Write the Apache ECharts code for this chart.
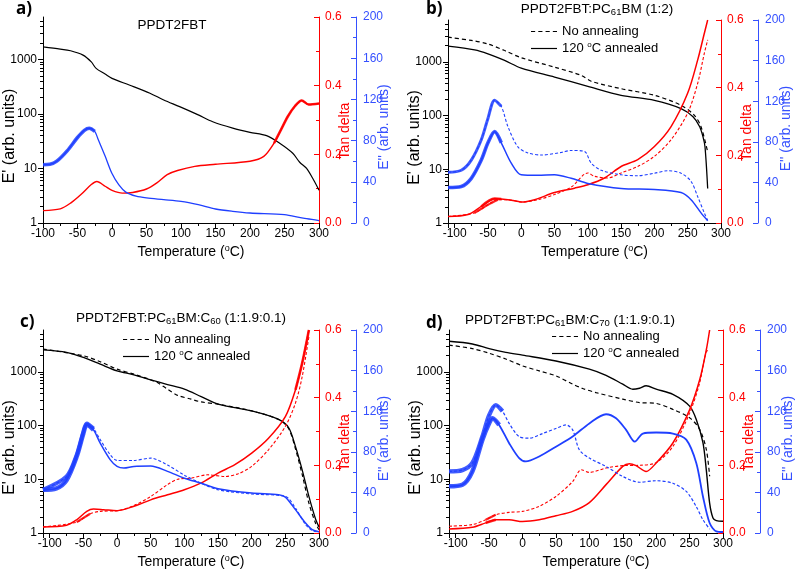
<!DOCTYPE html>
<html><head><meta charset="utf-8">
<script src="https://cdn.jsdelivr.net/npm/echarts@6/dist/echarts.min.js"></script>
<style>html,body{margin:0;padding:0;background:#fff}#c{width:800px;height:572px}</style>
</head><body><div id="c"></div>
<script>
// ---------------- DATA (temperature °C, value) ----------------
// Panel a) PPDT2FBT
const a_Ep = [[-100,1700],[-75,1550],[-60,1440],[-42,1200],[-30,900],[-23,684],[-10,540],[0,450],[25,340],[55,240],[75,180],[98,136],[125,96],[146,72],[175,55],[200,46],[224,40],[243,29],[262,19],[272,13],[282,10],[292,6.2],[300,4]];
const a_tan = [[-100,0.036],[-75,0.041],[-60,0.058],[-45,0.083],[-30,0.112],[-22,0.121],[-10,0.107],[0,0.095],[15,0.087],[30,0.089],[50,0.099],[65,0.117],[80,0.141],[95,0.153],[120,0.165],[150,0.171],[200,0.180],[220,0.194],[235,0.233],[245,0.272],[255,0.311],[265,0.340],[275,0.357],[285,0.345],[300,0.348]];
const a_Epp = [[-100,56.6],[-90,57],[-80,60],[-65,70],[-50,83],[-40,90],[-33,92],[-25,89],[-20,81],[-10,65],[0,48],[10,37],[20,30],[35,26],[50,24.3],[75,22.7],[100,21],[125,17.8],[150,13.6],[175,11.3],[200,9.7],[250,8.1],[275,4.9],[300,2.3]];

// Panel b) PPDT2FBT:PC61BM (1:2)
const b_Ep_dash = [[-110,2870],[-75,2500],[-50,2150],[-25,1620],[0,1190],[50,795],[90,560],[105,435],[150,316],[200,238],[240,155],[260,101],[270,62],[280,21]];
const b_Ep_sol = [[-110,1960],[-70,1670],[-50,1410],[-25,1060],[0,765],[50,520],[100,350],[150,238],[200,192],[240,135],[258,95],[268,62],[273,40],[276,26],[280,4.4]];
const b_tan_dash = [[-110,0.019],[-70,0.030],[-50,0.054],[-35,0.069],[-20,0.069],[0,0.062],[25,0.069],[50,0.084],[75,0.106],[100,0.148],[110,0.138],[130,0.133],[150,0.148],[175,0.167],[200,0.197],[225,0.246],[250,0.325],[265,0.413],[275,0.502],[280,0.541]];
const b_tan_sol = [[-110,0.019],[-80,0.025],[-60,0.049],[-40,0.072],[-30,0.071],[-10,0.066],[0,0.062],[20,0.069],[50,0.090],[80,0.103],[100,0.113],[125,0.133],[150,0.167],[175,0.187],[200,0.226],[225,0.285],[250,0.384],[265,0.482],[275,0.561],[280,0.60]];
const b_Epp_dash = [[-110,50],[-90,52],[-75,62],[-60,82],[-50,103],[-40,121],[-30,115],[-20,95],[-5,75],[10,69],[30,67],[60,69.5],[75,71.5],[95,70.5],[105,59],[120,52],[150,47.5],[175,46.6],[200,49],[220,51.5],[240,49],[255,41],[265,26],[275,9.8],[280,2.6]];
const b_Epp_sol = [[-110,35],[-90,36],[-75,44],[-60,62],[-50,79],[-40,90],[-30,79],[-15,59],[0,47.5],[25,47],[50,47.5],[75,44],[100,39],[150,34],[200,33],[240,30],[255,23],[270,10],[280,2.3]];

// Panel c) PPDT2FBT:PC61BM:C60 (1:1.9:0.1)
const c_Ep_dash = [[-110,2650],[-50,1990],[-25,1540],[0,1120],[25,905],[50,710],[60,630],[75,475],[90,365],[110,310],[125,275],[150,250],[200,187],[240,130],[255,87],[265,37],[275,12.3],[285,3.6],[295,1.5],[300,1.15]];
const c_Ep_sol = [[-110,2560],[-75,2300],[-50,1850],[-25,1385],[0,1040],[25,880],[50,710],[75,580],[100,475],[125,345],[150,250],[200,187],[240,130],[255,91],[265,41],[275,15],[285,4.8],[295,1.8],[300,1.3]];
const c_tan_dash = [[-110,0.018],[-60,0.032],[-40,0.057],[-25,0.064],[0,0.066],[25,0.081],[50,0.108],[75,0.143],[90,0.159],[110,0.162],[135,0.172],[160,0.167],[180,0.175],[200,0.197],[225,0.246],[250,0.315],[265,0.384],[275,0.462],[285,0.580]];
const c_tan_sol = [[-110,0.018],[-75,0.023],[-60,0.039],[-45,0.064],[-35,0.071],[-20,0.069],[0,0.066],[25,0.079],[50,0.098],[75,0.113],[100,0.128],[125,0.148],[150,0.177],[175,0.202],[200,0.236],[225,0.280],[250,0.344],[265,0.423],[275,0.502],[285,0.60]];
const c_Epp_dash = [[-110,42.6],[-75,55.7],[-60,77],[-50,100],[-45,108],[-35,103],[-25,92],[-10,77],[0,71.5],[25,71.5],[50,73.8],[75,67],[100,57],[125,49],[150,42.6],[200,38.4],[250,36],[265,24.6],[280,8.2],[290,2.6],[300,0.7]];
const c_Epp_sol = [[-110,42.6],[-90,44],[-75,52],[-60,75],[-50,98],[-45,106.5],[-35,101.6],[-25,88.5],[-10,72],[0,65.6],[10,64],[25,65.6],[50,66],[75,60.7],[100,54],[125,49],[150,43.6],[200,39.3],[240,37.7],[250,35.4],[265,23],[280,9.8],[290,3.3],[300,1.3]];

// Panel d) PPDT2FBT:PC61BM:C70 (1:1.9:0.1)
const d_Ep_dash = [[-110,3150],[-75,2700],[-50,2220],[-25,1730],[0,1290],[25,1040],[50,840],[75,590],[90,490],[110,410],[150,310],[175,268],[200,258],[225,200],[250,140],[265,85],[275,36],[280,11.4]];
const d_Ep_sol = [[-110,3700],[-75,3300],[-50,2700],[-25,2300],[0,2040],[50,1590],[100,1120],[125,860],[150,590],[165,475],[175,495],[185,550],[200,475],[225,380],[250,230],[260,130],[270,48],[275,15],[280,3.6],[285,1.9],[290,1.7],[300,1.65]];
const d_tan_dash = [[-110,0.020],[-75,0.025],[-55,0.039],[-40,0.054],[-20,0.061],[0,0.064],[25,0.079],[50,0.108],[75,0.152],[88,0.187],[100,0.179],[125,0.192],[150,0.199],[175,0.200],[200,0.208],[225,0.256],[250,0.354],[265,0.443],[275,0.536],[280,0.541]];
const d_tan_sol = [[-110,0.012],[-75,0.017],[-55,0.030],[-40,0.039],[-20,0.039],[0,0.034],[25,0.039],[50,0.051],[75,0.064],[100,0.090],[125,0.143],[150,0.197],[160,0.205],[170,0.199],[185,0.182],[200,0.207],[225,0.266],[250,0.364],[265,0.452],[275,0.541],[280,0.60]];
const d_Epp_dash = [[-110,60.7],[-90,62],[-75,69],[-60,95],[-50,116],[-40,126],[-30,120],[-20,108],[-5,95],[10,93.4],[30,98],[50,103],[65,106.5],[75,101.6],[85,82],[100,73.8],[125,65.6],[150,55.7],[175,50],[200,51.5],[225,49],[245,41],[260,26],[270,13],[280,3.9]];
const d_Epp_sol = [[-110,46],[-90,47.5],[-75,60.7],[-60,92],[-50,108],[-45,113],[-35,106.5],[-20,88.5],[-5,73.8],[5,70.5],[25,75.4],[50,85],[75,95],[100,108],[125,117],[140,113],[155,101.6],[168,90],[180,98],[200,99],[225,98],[245,92],[260,69],[270,36],[280,9.8],[290,1.6],[300,1]];

// Tick labels
const LOG_MAJOR = [1, 10, 100, 1000];
const LEGEND_NAMES = ['No annealing', '120 oC annealed'];

// ---------------- LAYOUT / STYLE ----------------
const FONT = 'Liberation Sans';
const RED = '#ff0000', BLUE = '#1f3fff', BLUE_T = '#3550ff', BLACK = '#000';
const LOG_MINOR = [];
[1, 10, 100, 1000].forEach(d => { for (let k = 2; k <= 9; k++) if (d * k < 6000) LOG_MINOR.push(d * k); });

const panels = [
  { grid: {left: 43, top: 17, width: 276, height: 206}, xmin: -100,
    tag: 'a)', tagPos: [16, 1],
    title: '{n|PPDT2FBT}', titlePos: [172, 17], legend: null },
  { grid: {left: 448, top: 20, width: 273, height: 203}, xmin: -110,
    tag: 'b)', tagPos: [426, 1],
    title: '{n|PPDT2FBT:PC}{s|61}{n|BM (1:2)}', titlePos: [597, 1], legend: [531, 25] },
  { grid: {left: 43, top: 330, width: 276, height: 203}, xmin: -110,
    tag: 'c)', tagPos: [20, 314],
    title: '{n|PPDT2FBT:PC}{s|61}{n|BM:C}{s|60}{n| (1:1.9:0.1)}', titlePos: [181, 310], legend: [123, 333] },
  { grid: {left: 449, top: 330, width: 274, height: 203}, xmin: -110,
    tag: 'd)', tagPos: [426, 315],
    title: '{n|PPDT2FBT:PC}{s|61}{n|BM:C}{s|70}{n| (1:1.9:0.1)}', titlePos: [570, 312], legend: [552, 330] }
];

// series definitions: [data, panel, axis(0=E',2=tan,3=E''), color, dashed, width, noisy band [from,to,width], legend name]
const seriesDefs = [
  [a_Ep, 0, 0, BLACK, false, 1.2, null, null],
  [a_tan, 0, 2, RED, false, 1.4, [230, 300, 2.6]],
  [a_Epp, 0, 3, BLUE, false, 1.3, [-100, -25, 3.6]],

  [b_Ep_dash, 1, 0, BLACK, true, 1.2, null, LEGEND_NAMES[0]],
  [b_Ep_sol, 1, 0, BLACK, false, 1.3, null, LEGEND_NAMES[1]],
  [b_tan_dash, 1, 2, RED, true, 1.1, [-75, -30, 2.2]],
  [b_tan_sol, 1, 2, RED, false, 1.5, [-75, -30, 2.6]],
  [b_Epp_dash, 1, 3, BLUE, true, 1.1, [-110, -30, 3]],
  [b_Epp_sol, 1, 3, BLUE, false, 1.5, [-110, -30, 3.6]],

  [c_Ep_dash, 2, 0, BLACK, true, 1.2, null, LEGEND_NAMES[0]],
  [c_Ep_sol, 2, 0, BLACK, false, 1.3, null, LEGEND_NAMES[1]],
  [c_tan_dash, 2, 2, RED, true, 1.1, [-70, -30, 2.2]],
  [c_tan_sol, 2, 2, RED, false, 1.5, [255, 285, 2.6]],
  [c_Epp_dash, 2, 3, BLUE, true, 1.1, [-110, -30, 4]],
  [c_Epp_sol, 2, 3, BLUE, false, 1.5, [-110, -30, 4.4]],

  [d_Ep_dash, 3, 0, BLACK, true, 1.2, null, LEGEND_NAMES[0]],
  [d_Ep_sol, 3, 0, BLACK, false, 1.4, null, LEGEND_NAMES[1]],
  [d_tan_dash, 3, 2, RED, true, 1.1, [-70, -30, 2.2]],
  [d_tan_sol, 3, 2, RED, false, 1.5, [-70, -30, 2.6]],
  [d_Epp_dash, 3, 3, BLUE, true, 1.2, [-110, -25, 4.4]],
  [d_Epp_sol, 3, 3, BLUE, false, 1.8, [-110, -30, 4.6]]
];

const richTitle = {
  n: {fontSize: 13.5, fontFamily: FONT, fontWeight: 'normal', color: BLACK, lineHeight: 16},
  s: {fontSize: 9.5, fontFamily: FONT, fontWeight: 'normal', color: BLACK, lineHeight: 9, verticalAlign: 'bottom'}
};
const richSup = (size, color) => ({
  n: {fontSize: size, fontFamily: FONT, fontWeight: 'normal', color: color, lineHeight: size + 2},
  s: {fontSize: Math.round(size * 0.62), fontFamily: FONT, fontWeight: 'normal', color: color, lineHeight: Math.round(size * 0.62), verticalAlign: 'top'}
});

const grid = [], xAxis = [], yAxis = [], series = [], title = [], legend = [];

panels.forEach((p, i) => {
  grid.push(Object.assign({outerBoundsMode: 'none', containLabel: false}, p.grid));
  const xa = {
    type: 'value', gridIndex: i, min: p.xmin, max: 300, splitNumber: 8,
    axisLine: {onZero: false, lineStyle: {color: BLACK, width: 1}},
    axisTick: {length: 5, lineStyle: {color: BLACK}},
    minorTick: {show: true, splitNumber: 2, length: 3, lineStyle: {color: BLACK}},
    axisLabel: {color: BLACK, fontSize: 12, fontFamily: FONT, margin: 5,
      formatter: v => (Math.abs(v % 50) < 1e-9 ? String(v) : '')},
    splitLine: {show: false}, minorSplitLine: {show: false},
    name: '{n|Temperature (}{s|o}{n|C)}', nameLocation: 'middle', nameGap: 21, nameMoveOverlap: false,
    nameTextStyle: {rich: richSup(14, BLACK), padding: [0, 0, 0, 20]}
  };
  if (p.xmin % 50 === 0) xa.interval = 50;
  xAxis.push(xa);

  // E' log axis (major)
  yAxis.push({
    type: 'log', logBase: 10, gridIndex: i, min: 1, max: 6000, position: 'left',
    axisLine: {show: true, onZero: false, lineStyle: {color: BLACK, width: 1}},
    axisTick: {show: true, length: 5, customValues: LOG_MAJOR, lineStyle: {color: BLACK}},
    axisLabel: {color: BLACK, fontSize: 12, fontFamily: FONT, margin: 6, customValues: LOG_MAJOR,
      formatter: v => { const l = Math.log10(v); return Math.abs(l - Math.round(l)) < 1e-6 ? String(Math.round(v)) : ''; }},
    splitLine: {show: false},
    name: "E' (arb. units)", nameLocation: 'middle', nameGap: 25, nameMoveOverlap: false,
    nameTextStyle: {fontSize: 16, fontFamily: FONT, color: BLACK, padding: [0, 32, 0, 0]}
  });
  // E' log axis (minor ticks)
  yAxis.push({
    type: 'log', logBase: 10, gridIndex: i, min: 1, max: 6000, position: 'left',
    axisLine: {show: false, onZero: false},
    axisTick: {show: true, length: 3, customValues: LOG_MINOR, lineStyle: {color: BLACK}},
    axisLabel: {show: false}, splitLine: {show: false}
  });
  // tan delta
  yAxis.push({
    type: 'value', gridIndex: i, min: 0, max: 0.6, interval: 0.2, position: 'right',
    axisLine: {show: true, onZero: false, lineStyle: {color: RED, width: 1}},
    axisTick: {show: true, inside: true, length: 5, lineStyle: {color: RED}},
    minorTick: {show: true, splitNumber: 2, length: 3, lineStyle: {color: RED}},
    axisLabel: {color: RED, fontSize: 12, fontFamily: FONT, margin: 6, formatter: v => v.toFixed(1)},
    splitLine: {show: false}, minorSplitLine: {show: false},
    name: 'Tan delta', nameLocation: 'middle', nameGap: 19, nameMoveOverlap: false,
    nameTextStyle: {fontSize: 14, fontFamily: FONT, color: RED, padding: [0, 22, 0, 0]}
  });
  // E''
  yAxis.push({
    type: 'value', gridIndex: i, min: 0, max: 200, interval: 40, position: 'right', offset: 37,
    axisLine: {show: true, onZero: false, lineStyle: {color: BLUE_T, width: 1}},
    axisTick: {show: true, inside: true, length: 5, lineStyle: {color: BLUE_T}},
    minorTick: {show: true, splitNumber: 2, length: 3, lineStyle: {color: BLUE_T}},
    axisLabel: {color: BLUE_T, fontSize: 12, fontFamily: FONT, margin: 7},
    splitLine: {show: false}, minorSplitLine: {show: false},
    name: "E'' (arb. units)", nameLocation: 'middle', nameGap: 21, nameMoveOverlap: false,
    nameTextStyle: {fontSize: 14, fontFamily: FONT, color: BLUE_T, padding: [0, 14, 0, 0]}
  });

  title.push({text: p.tag, left: p.tagPos[0], top: p.tagPos[1], padding: 0,
    textStyle: {fontSize: 17, fontWeight: 'bold', fontFamily: 'Open Sans', color: BLACK}});
  title.push({text: p.title, left: p.titlePos[0], top: p.titlePos[1], padding: 0, textAlign: 'center',
    textStyle: {fontWeight: 'normal', fontSize: 13.5, fontFamily: FONT, rich: richTitle}});

  if (p.legend) {
    legend.push({
      left: p.legend[0], top: p.legend[1], orient: 'vertical', padding: 0, itemGap: 3,
      itemWidth: 26, itemHeight: 1.2, symbolKeepAspect: false, selectedMode: false,
      data: [
        {name: LEGEND_NAMES[0], icon: 'path://M0,0h4v1h-4zM7,0h4v1h-4zM14,0h4v1h-4zM21,0h4v1h-4z', itemStyle: {color: BLACK, borderWidth: 0}},
        {name: LEGEND_NAMES[1], icon: 'path://M0,0h26v1h-26z', itemStyle: {color: BLACK, borderWidth: 0}}
      ],
      formatter: n => n === LEGEND_NAMES[1] ? '{n|120 }{s|o}{n|C annealed}' : '{n|' + n + '}',
      textStyle: {rich: richSup(13, BLACK)}
    });
  }
});

seriesDefs.forEach(d => {
  const [data, pi, ax, color, dashed, width, band, name] = d;
  const base = {
    type: 'line', xAxisIndex: pi, yAxisIndex: pi * 4 + ax, symbol: 'none', showSymbol: false,
    smooth: 0.3, silent: true, animation: false, itemStyle: {color: color}
  };
  if (band) {
    series.push(Object.assign({}, base, {
      data: data.filter(pt => pt[0] >= band[0] && pt[0] <= band[1]),
      lineStyle: {color: color, width: band[2], opacity: 0.85, type: 'solid'}
    }));
  }
  series.push(Object.assign({}, base, {
    name: name || undefined, data: data,
    lineStyle: {color: color, width: width, type: dashed ? (color === BLACK ? [4, 3] : [3, 2]) : 'solid'}
  }));
});

const chart = echarts.init(document.getElementById('c'), null, {renderer: 'canvas'});
chart.setOption({
  backgroundColor: '#fff', animation: false,
  grid, xAxis, yAxis, series, title, legend
});
</script></body></html>
